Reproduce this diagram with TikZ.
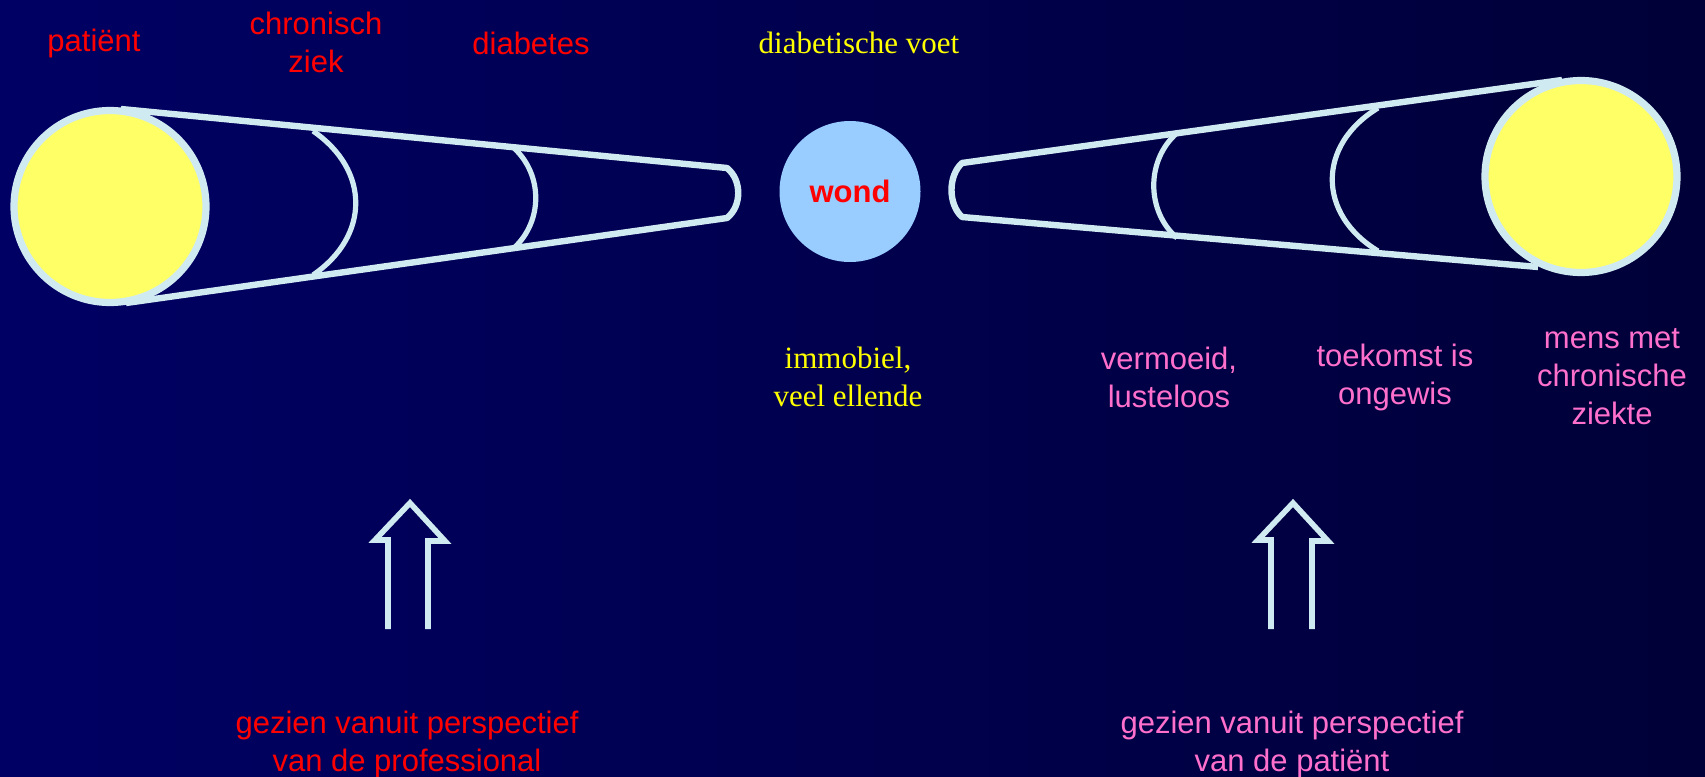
\documentclass[tikz,border=0pt]{standalone}
\usepackage{fontspec}
\setmainfont{Liberation Serif}
\setsansfont{Liberation Sans}
\definecolor{bgL}{RGB}{0,0,100}
\definecolor{bgR}{RGB}{0,0,56}
\definecolor{lineC}{RGB}{208,234,242}
\definecolor{sunY}{RGB}{255,255,102}
\definecolor{wondB}{RGB}{153,204,255}
\definecolor{txtR}{RGB}{255,0,0}
\definecolor{txtP}{RGB}{255,112,204}
\definecolor{txtY}{RGB}{255,255,0}
\begin{document}
\begin{tikzpicture}[x=0.5pt,y=-0.5pt,
  ring/.style={circle,draw=lineC,line width=3.6pt,fill=sunY,minimum size=96pt,inner sep=0pt},
  wondc/.style={circle,fill=wondB,minimum size=70.5pt,inner sep=0pt},
  conel/.style={draw=lineC,line width=3.2pt,line join=round},
  arcl/.style={draw=lineC,line width=2.6pt},
  arrowl/.style={draw=lineC,line width=2.8pt,line join=miter},
  lab/.style={font=\sffamily\fontsize{15.5pt}{19pt}\selectfont,align=center,inner sep=0pt},
  slab/.style={font=\rmfamily\fontsize{15.5pt}{19pt}\selectfont,align=center,inner sep=0pt}]
\useasboundingbox (0,0) rectangle (1705,777);
\fill[left color=bgL,right color=bgR] (0,0) rectangle (1705,777);

% left cone
\coordinate (lt1) at (121,109);
\coordinate (lb1) at (126,303);
\coordinate (lt2) at (727,168);
\coordinate (lb2) at (727,218);
\draw[conel] (lt1) -- (lt2) .. controls (742,180) and (742,206) .. (lb2) -- (lb1);
\coordinate (la1t) at (313,131); \coordinate (la1b) at (313,275);
\draw[arcl] (la1t) .. controls (370,170) and (370,236) .. (la1b);
\coordinate (la2t) at (514,148); \coordinate (la2b) at (514,248);
\draw[arcl] (la2t) .. controls (543,175) and (543,221) .. (la2b);
\node[ring] (pat) at (110,206.5) {};

% wond
\node[wondc] (wond) at (850,191.5) {};
\node[lab,font=\sffamily\bfseries\fontsize{15.5pt}{19pt}\selectfont,text=txtR] (wondt) at (850,191) {wond};

% right cone
\coordinate (rt1) at (962,163);
\coordinate (rb1) at (962,217);
\coordinate (rt2) at (1562,80);
\coordinate (rb2) at (1538,267);
\draw[conel] (rt2) -- (rt1) .. controls (948,176) and (948,204) .. (rb1) -- (rb2);
\coordinate (ra1t) at (1177,133); \coordinate (ra1b) at (1177,238);
\draw[arcl] (ra1t) .. controls (1146,160) and (1146,211) .. (ra1b);
\coordinate (ra2t) at (1378,108); \coordinate (ra2b) at (1378,251);
\draw[arcl] (ra2t) .. controls (1317,145) and (1317,214) .. (ra2b);
\node[ring] (mens) at (1581,176.5) {};

% top labels
\node[lab,text=txtR] (tpat) at (94,43) {patiënt};
\node[lab,text=txtR] (tchr) at (316,42) {chronisch\\ziek};
\node[lab,text=txtR] (tdia) at (531,43) {diabetes};
\node[slab,text=txtY] (tvoet) at (859,43) {diabetische voet};

% middle labels
\node[slab,text=txtY] (timm) at (848,377) {immobiel,\\veel ellende};
\node[lab,text=txtP] (tver) at (1169,377) {vermoeid,\\lusteloos};
\node[lab,text=txtP] (ttoe) at (1395,377) {toekomst is\\ongewis};
\node[lab,text=txtP] (tmens) at (1612,377) {mens met\\chronische\\ziekte};

% arrows
\coordinate (a1tip) at (410,503);
\draw[arrowl] (388,629) -- (388,540) -- (375,540) -- (a1tip) -- (445,541) -- (428,541) -- (428,629);
\coordinate (a2tip) at (1293,503);
\draw[arrowl] (1271,629) -- (1271,540) -- (1258,540) -- (a2tip) -- (1328,541) -- (1312,541) -- (1312,629);

% bottom labels
\node[lab,text=txtR] (tprof) at (407,744) {gezien vanuit perspectief\\van de professional};
\node[lab,text=txtP] (tpat2) at (1292,744) {gezien vanuit perspectief\\van de patiënt};
\end{tikzpicture}
\end{document}
